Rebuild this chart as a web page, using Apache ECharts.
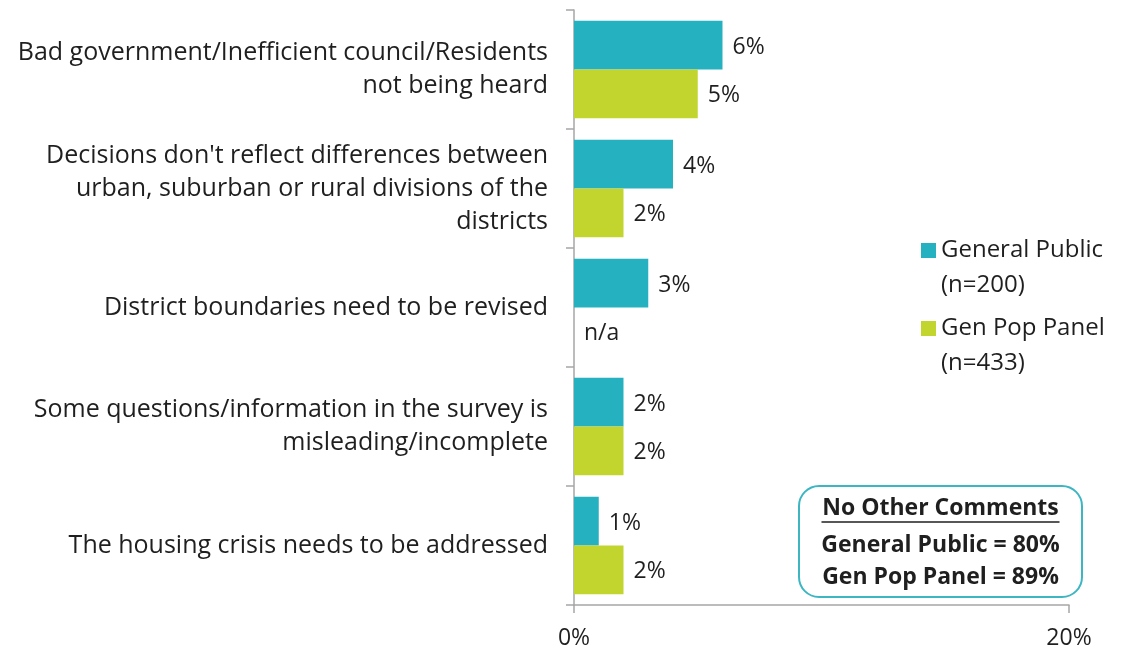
<!DOCTYPE html>
<html>
<head>
<meta charset="utf-8">
<script src="https://cdn.jsdelivr.net/npm/echarts@6/dist/echarts.min.js"></script>
<style>
  html, body { margin: 0; padding: 0; background: #fff; }
  #chart { width: 1132px; height: 645px; }
</style>
</head>
<body>
<div id="chart"></div>
<script>
// Survey: other comments, share of respondents (%)
const categories = [
  "Bad government/Inefficient council/Residents\nnot being heard",
  "Decisions don't reflect differences between\nurban, suburban or rural divisions of the\ndistricts",
  "District boundaries need to be revised",
  "Some questions/information in the survey is\nmisleading/incomplete",
  "The housing crisis needs to be addressed"
];
const seriesNames = ["General Public\n(n=200)", "Gen Pop Panel\n(n=433)"];
const generalPublic = [6, 4, 3, 2, 1];
const genPopPanel = [5, 2, null, 2, 2];   // null = question not asked (n/a)
const xTicks = [0, 20];
const noOtherTitle = "No Other Comments";
const noOtherLabels = ["General Public", "Gen Pop Panel"];
const noOtherValues = [80, 89];

const TEAL = '#25B1BF';
const LIME = '#C2D52F';
const TEXT = '#1f1f1f';
const FONT = 'Open Sans';

const chart = echarts.init(document.getElementById('chart'));

const valueLabel = {
  show: true,
  position: 'right',
  distance: 10,
  offset: [0, 2],
  color: TEXT,
  fontFamily: FONT,
  fontSize: 23,
  formatter: p => (p.data && p.data.na) ? 'n/a' : p.value + '%'
};

const boxX = 799, boxY = 486, boxW = 283, boxH = 111, boxCx = boxX + boxW / 2;

// legend swatch sits beside the first line of each two-line entry
const swatch = 'path://M0,0h15v15h-15z M0,50h15';

chart.setOption({
  animation: false,
  textStyle: { fontFamily: FONT },
  grid: {
    left: 574, right: 63, top: 10, bottom: 40,
    containLabel: false,
    outerBoundsMode: 'none'
  },
  legend: {
    orient: 'vertical',
    left: 916,
    top: 228,
    itemWidth: 15,
    itemHeight: 50,
    itemGap: 8,
    icon: swatch,
    selectedMode: false,
    data: seriesNames,
    textStyle: {
      fontFamily: FONT,
      fontSize: 24,
      color: TEXT,
      lineHeight: 35
    }
  },
  xAxis: {
    type: 'value',
    min: xTicks[0],
    max: xTicks[xTicks.length - 1],
    interval: 20,
    splitLine: { show: false },
    axisLine: { show: true, lineStyle: { color: '#A6A6A6', width: 1.5 } },
    axisTick: { show: true, length: 8, lineStyle: { color: '#A6A6A6', width: 1.5 } },
    axisLabel: {
      formatter: '{value}%',
      margin: 22,
      fontFamily: FONT,
      fontSize: 23,
      color: TEXT
    }
  },
  yAxis: {
    type: 'category',
    inverse: true,
    data: categories,
    axisLine: { show: true, lineStyle: { color: '#A6A6A6', width: 1.5 } },
    axisTick: { show: true, length: 8, lineStyle: { color: '#A6A6A6', width: 1.5 } },
    axisLabel: {
      margin: 26,
      fontFamily: FONT,
      fontSize: 25,
      lineHeight: 33,
      padding: [4, 0, 0, 0],
      color: TEXT,
      align: 'right'
    }
  },
  series: [
    {
      name: seriesNames[0],
      type: 'bar',
      barGap: '0%',
      barCategoryGap: '18%',
      itemStyle: { color: TEAL },
      label: valueLabel,
      data: generalPublic
    },
    {
      name: seriesNames[1],
      type: 'bar',
      itemStyle: { color: LIME },
      label: valueLabel,
      data: genPopPanel.map(v => v === null ? { value: 0, na: true } : v)
    }
  ],
  graphic: [
    {
      type: 'rect',
      shape: { x: boxX, y: boxY, width: boxW, height: boxH, r: 20 },
      style: { fill: '#fff', stroke: '#3CB6C2', lineWidth: 2 },
      z: 10
    },
    {
      type: 'text',
      x: boxCx, y: 508,
      style: {
        text: noOtherTitle,
        fill: TEXT, font: 'bold 23px ' + FONT,
        align: 'center', verticalAlign: 'middle'
      },
      z: 11
    },
    {
      type: 'line',
      shape: { x1: boxCx - 119, y1: 522, x2: boxCx + 119, y2: 522 },
      style: { stroke: TEXT, lineWidth: 1.5 },
      z: 11
    },
    ...noOtherLabels.map((lab, i) => ({
      type: 'text',
      x: boxCx, y: 545 + i * 32,
      style: {
        text: lab + ' = ' + noOtherValues[i] + '%',
        fill: TEXT, font: 'bold 23px ' + FONT,
        align: 'center', verticalAlign: 'middle'
      },
      z: 11
    }))
  ]
});
</script>
</body>
</html>
